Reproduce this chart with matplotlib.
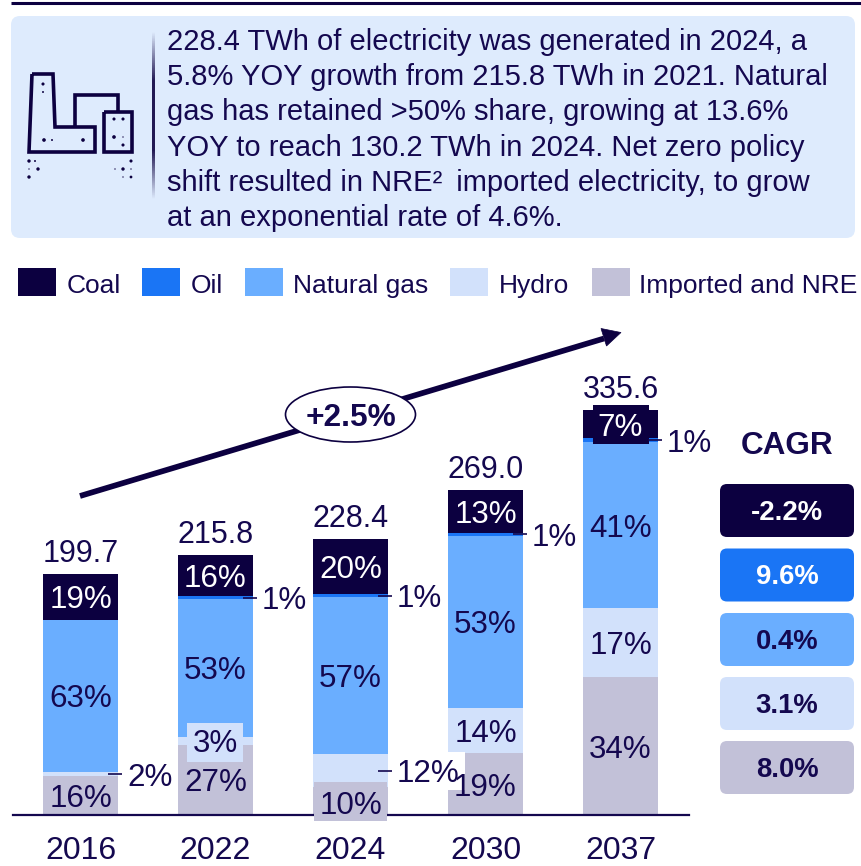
import matplotlib
matplotlib.use('Agg')
import matplotlib.pyplot as plt
import numpy as np
from matplotlib.patches import FancyBboxPatch, Rectangle, Ellipse, Polygon

plt.rcParams['font.family'] = ['Liberation Sans', 'DejaVu Sans']

years = ['2016', '2022', '2024', '2030', '2037']
totals = [199.7, 215.8, 228.4, 269.0, 335.6]
total_labels = ['199.7', '215.8', '228.4', '269.0', '335.6']
series = ['Coal', 'Oil', 'Natural gas', 'Hydro', 'Imported and NRE']
coal = [19, 16, 20, 13, 7]
oil = [0, 1, 1, 1, 1]
gas = [63, 53, 57, 53, 41]
hydro = [2, 3, 12, 14, 17]
nre = [16, 27, 10, 19, 34]
cagr = ['-2.2%', '9.6%', '0.4%', '3.1%', '8.0%']
growth = '+2.5%'
summary = [
    '228.4 TWh of electricity was generated in 2024, a',
    '5.8% YOY growth from 215.8 TWh in 2021. Natural',
    'gas has retained >50% share, growing at 13.6%',
    'YOY to reach 130.2 TWh in 2024. Net zero policy',
    'shift resulted in NRE²\u2009 imported electricity, to grow',
    'at an exponential rate of 4.6%.',
]

INK = '#14084f'
DARK = '#0c0040'
colors = [DARK, '#1a75f5', '#6aaeff', '#d2e1fb', '#c2c1d8']
PANEL = '#deebfd'

W, H = 862, 866
fig = plt.figure(figsize=(W / 100, H / 100), dpi=100)

# page layer in pixel coordinates
bg = fig.add_axes([0, 0, 1, 1])
bg.set_xlim(0, W)
bg.set_ylim(H, 0)
bg.axis('off')

bg.plot([11, W], [3, 3], color=DARK, lw=2.2, solid_capstyle='butt')
bg.add_patch(FancyBboxPatch((17, 22), 832, 210, boxstyle='round,pad=6,rounding_size=9',
                            fc=PANEL, ec='none'))

# fading divider
fade = np.concatenate([np.linspace(0, 1, 30), np.ones(40), np.linspace(1, 0, 30)])[:, None]
grad = np.zeros((100, 1, 4))
grad[:, :, :3] = matplotlib.colors.to_rgb(DARK)
grad[:, :, 3] = fade * 0.9
bg.imshow(grad, extent=(152, 154.2, 200, 31), aspect='auto', zorder=2)
bg.set_xlim(0, W)
bg.set_ylim(H, 0)

# plant icon
icon_kw = dict(color=DARK, lw=2.6, solid_joinstyle='miter', solid_capstyle='butt')
bg.plot([32, 53, 55, 95, 95, 29, 32], [74, 74, 127, 127, 152, 152, 74], **icon_kw)
bg.plot([75, 75, 118.5, 118.5], [127, 95, 95, 111], **icon_kw)
bg.plot([104.5, 132, 132, 104.5, 104.5], [111.5, 111.5, 152, 152, 111.5], **icon_kw)
dot_x = [43, 43, 44, 52, 83, 114, 123, 114, 123, 114, 123, 29, 35, 38, 29, 29, 131, 123, 115, 131, 123, 131]
dot_y = [84, 92, 140, 140, 140, 119, 119, 137, 145, 137, 137, 161, 161, 169, 169, 177, 161, 169, 169, 169, 177, 177]
dot_s = [5, 2, 7, 2, 7, 5, 5, 7, 5, 1, 1, 6, 2, 6, 1, 6, 5, 6, 1, 1, 1, 4]
bg.scatter(dot_x, dot_y, s=dot_s, color=DARK, lw=0, zorder=3)

for i, line in enumerate(summary):
    bg.text(167, 50 + i * 35.2, line, fontsize=21, color=INK, va='baseline', ha='left')

# legend
legend_x = [18, 142, 245, 450, 592]
legend_text_x = [67, 191, 293, 499, 639]
for lx, tx, name, c in zip(legend_x, legend_text_x, series, colors):
    bg.add_patch(Rectangle((lx, 268), 38, 28, fc=c, ec='none'))
    bg.text(tx, 293, name, fontsize=19, color=INK, va='baseline', ha='left')

# chart layer: 1 data unit is PX_Y pixels, bars 135 px apart
PX_Y = 1.207
PX_X = 135.0
BASE = 815
ax_left, ax_right, ax_top = 13, 689, 300
ax = fig.add_axes([ax_left / W, 1 - BASE / H, (ax_right - ax_left) / W, (BASE - ax_top) / H])
ax.patch.set_alpha(0)
ax.set_xlim((ax_left - 80.5) / PX_X, (ax_right - 80.5) / PX_X)
ax.set_ylim(0, (BASE - ax_top) / PX_Y)
for s in ['top', 'left', 'right']:
    ax.spines[s].set_visible(False)
ax.spines['bottom'].set_color(INK)
ax.spines['bottom'].set_linewidth(1.6)
ax.spines['bottom'].set_zorder(2.5)
ax.set_yticks([])
ax.set_xticks(range(len(years)))
ax.set_xticklabels(years, fontsize=23, color=INK)
ax.tick_params(axis='x', length=0, pad=15)

pos = np.arange(len(years))
bar_w = 75 / PX_X
stack = [nre, hydro, gas, oil, coal]
stack_colors = colors[::-1]
bottom = np.zeros(len(years))
mids = {}
for share, c, key in zip(stack, stack_colors, ['nre', 'hydro', 'gas', 'oil', 'coal']):
    vals = np.array(share) / 100 * np.array(totals)
    ax.bar(pos, vals, bar_w, bottom=bottom, color=c, lw=0, zorder=2)
    mids[key] = bottom + vals / 2
    bottom = bottom + vals

LABEL = 22.6
SHIFT = 3.5  # percent sign box sits high, nudge labels down to the segment centre

def put(i, key, share, color=INK, dy=0):
    ax.text(i, mids[key][i] + (dy - SHIFT) / PX_Y, f'{share}%', fontsize=LABEL, color=color,
            ha='center', va='center', zorder=5)

def side(i, key, share):
    y = mids[key][i]
    right = i + bar_w / 2
    ax.plot([right - 10 / PX_X, right + 4 / PX_X], [y, y], color=INK, lw=1.2, zorder=6,
            solid_capstyle='butt')
    ax.text(right + 9 / PX_X, y - SHIFT / PX_Y, f'{share}%', fontsize=LABEL, color=INK, ha='left',
            va='center', zorder=5)

def label_box(x0, x1, y0, y1, c):
    # backing patch behind a label, given in page pixels
    ax.add_patch(Rectangle(((x0 - 80.5) / PX_X, (BASE - y1) / PX_Y), (x1 - x0) / PX_X, (y1 - y0) / PX_Y,
                           fc=c, ec='none', zorder=4, clip_on=False))

label_box(187, 243, 723, 762, colors[3])
label_box(314, 387, 782, 821, colors[4])
label_box(593, 649, 405, 444, DARK)
label_box(395, 465, 752, 790, 'white')

for i in range(len(years)):
    ax.text(i, totals[i] + 20 / PX_Y, total_labels[i], fontsize=22, color=INK, ha='center',
            va='center', zorder=5)
    put(i, 'gas', gas[i])
    put(i, 'coal', coal[i], 'white')

put(0, 'nre', nre[0])
put(1, 'nre', nre[1])
put(2, 'nre', nre[2], dy=-1)
put(3, 'nre', nre[3])
put(4, 'nre', nre[4])
put(1, 'hydro', hydro[1])
put(3, 'hydro', hydro[3])
put(4, 'hydro', hydro[4])
side(0, 'hydro', hydro[0])
side(1, 'oil', oil[1])
side(2, 'oil', oil[2])
side(2, 'hydro', hydro[2])
side(3, 'oil', oil[3])
side(4, 'oil', oil[4])

# growth arrow and bubble on the page layer
ov = fig.add_axes([0, 0, 1, 1])
ov.set_xlim(0, W)
ov.set_ylim(H, 0)
ov.axis('off')
ov.plot([80, 604], [496, 338.5], color=DARK, lw=4.1, solid_capstyle='butt')
ov.add_patch(Polygon([[621, 332.5], [601, 328.5], [606.5, 346]], fc=DARK, ec=DARK, lw=0.5))
ov.add_patch(Ellipse((350.5, 414.5), 130, 55, fc='white', ec=DARK, lw=1.2, zorder=4))
ov.text(351, 418.5, growth, fontsize=22.8, fontweight='bold', color=INK, ha='center', va='center', zorder=5)

# CAGR column
ov.text(787, 446, 'CAGR', fontsize=22.7, fontweight='bold', color=INK, ha='center', va='center')
box_top = [484, 548.5, 613, 677, 741]
cagr_text = ['white', 'white', INK, INK, INK]
for top, val, c, tc in zip(box_top, cagr, colors, cagr_text):
    ov.add_patch(FancyBboxPatch((726, top + 6), 122, 41, boxstyle='round,pad=6,rounding_size=7',
                                fc=c, ec='none'))
    ov.text(787, top + 29, val, fontsize=19.8, fontweight='bold', color=tc, ha='center', va='center')

fig.savefig('out.png', dpi=100)
